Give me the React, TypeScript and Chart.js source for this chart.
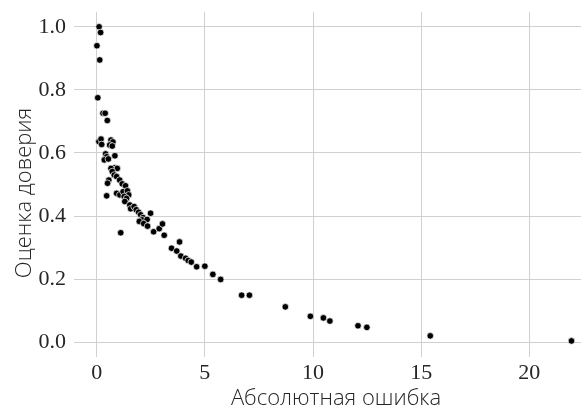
import React, { useEffect, useRef } from "react";
import { Chart, registerables } from "chart.js";

Chart.register(...registerables);

const absError: number[] = [
  0.11, 0.18, 0.01, 0.14, 0.05, 0.29, 0.39, 0.49, 0.10, 0.20,
  0.23, 0.66, 0.75, 0.60, 0.72, 0.41, 0.46, 0.84, 0.35, 0.54,
  0.84, 0.95, 0.66, 0.72, 0.81, 0.92, 0.56, 0.50, 1.06, 1.18,
  1.33, 0.46, 0.92, 1.07, 1.22, 1.42, 1.48, 1.27, 1.38, 1.30,
  1.53, 1.57, 1.73, 1.83, 1.94, 2.03, 2.14, 2.49, 2.10, 1.97,
  2.33, 2.17, 2.35, 1.11, 2.63, 2.89, 3.04, 3.12, 3.83, 3.46,
  3.70, 3.89, 4.11, 4.23, 4.37, 4.62, 5.00, 5.37, 5.73, 6.70,
  7.06, 8.72, 9.88, 10.48, 10.78, 12.08, 12.49, 15.42, 21.95,
];

const confidence: number[] = [
  1.0, 0.982, 0.94, 0.895, 0.775, 0.726, 0.726, 0.703, 0.636, 0.644,
  0.627, 0.641, 0.635, 0.625, 0.622, 0.597, 0.588, 0.591, 0.578, 0.581,
  0.553, 0.551, 0.551, 0.541, 0.53, 0.525, 0.514, 0.504, 0.514, 0.502,
  0.496, 0.464, 0.472, 0.467, 0.477, 0.48, 0.467, 0.462, 0.456, 0.446,
  0.435, 0.423, 0.43, 0.42, 0.412, 0.404, 0.395, 0.409, 0.388, 0.383,
  0.389, 0.376, 0.368, 0.347, 0.35, 0.36, 0.375, 0.339, 0.318, 0.298,
  0.289, 0.273, 0.266, 0.259, 0.254, 0.239, 0.241, 0.215, 0.199, 0.149,
  0.149, 0.112, 0.082, 0.077, 0.067, 0.052, 0.047, 0.02, 0.004,
];

const xTicks: number[] = [0, 5, 10, 15, 20];
const yTicks: number[] = [0, 0.2, 0.4, 0.6, 0.8, 1.0];
const xTitle = "Абсолютная ошибка";
const yTitle = "Оценка доверия";

const TEXT = "#262626";
const GRID = "#d0d0d0";

export default function App() {
  const ref = useRef<HTMLCanvasElement | null>(null);

  useEffect(() => {
    const canvas = ref.current;
    if (!canvas) return;
    document.body.style.margin = "0";

    const titlePlugin = {
      id: "axisTitles",
      afterDraw(chart: any) {
        const ctx = chart.ctx;
        ctx.save();
        ctx.fillStyle = TEXT;
        ctx.font = '300 22px "Open Sans"';
        ctx.textAlign = "center";
        ctx.textBaseline = "alphabetic";
        ctx.fillText(xTitle, 336, 405);
        ctx.translate(31, 193);
        ctx.rotate(-Math.PI / 2);
        ctx.fillText(yTitle, 0, 0);
        ctx.restore();
      },
    };

    const chart = new Chart(canvas, {
      type: "scatter",
      data: {
        datasets: [
          {
            data: absError.map((x, i) => ({ x, y: confidence[i] })),
            backgroundColor: "#000000",
            borderColor: "#ffffff",
            borderWidth: 0.7,
            pointRadius: 3.3,
            pointHoverRadius: 3.3,
          },
        ],
      },
      options: {
        animation: false,
        responsive: false,
        devicePixelRatio: 1,
        layout: { padding: { top: 12, right: 0, bottom: 0, left: 0 } },
        plugins: {
          legend: { display: false },
          tooltip: { enabled: false },
        },
        scales: {
          x: {
            type: "linear",
            min: -1.05,
            max: 22.39,
            afterFit(scale: any) {
              scale.height = 53;
              scale.paddingLeft = 0;
              scale.paddingRight = 0;
            },
            afterBuildTicks(scale: any) {
              scale.ticks = xTicks.map((v) => ({ value: v }));
            },
            grid: { color: GRID, lineWidth: 1, drawTicks: false },
            border: { display: false },
            ticks: {
              padding: 3,
              color: TEXT,
              font: { family: '"Liberation Serif"', size: 22 },
              callback: (v: any) => String(v),
            },
          },
          y: {
            type: "linear",
            min: -0.047,
            max: 1.047,
            afterFit(scale: any) {
              scale.width = 74;
              scale.paddingTop = 0;
              scale.paddingBottom = 0;
            },
            afterBuildTicks(scale: any) {
              scale.ticks = yTicks.map((v) => ({ value: v }));
            },
            grid: { color: GRID, lineWidth: 1, drawTicks: false },
            border: { display: false },
            ticks: {
              padding: 8,
              color: TEXT,
              font: { family: '"Liberation Serif"', size: 22 },
              callback: (v: any) => Number(v).toFixed(1),
            },
          },
        },
      },
      plugins: [titlePlugin],
    });

    return () => chart.destroy();
  }, []);

  return (
    <div style={{ position: "fixed", left: 0, top: 0, width: 585, height: 410, overflow: "hidden", background: "#fff" }}>
      <canvas ref={ref} width={585} height={410} style={{ display: "block", width: 585, height: 410 }} />
    </div>
  );
}
